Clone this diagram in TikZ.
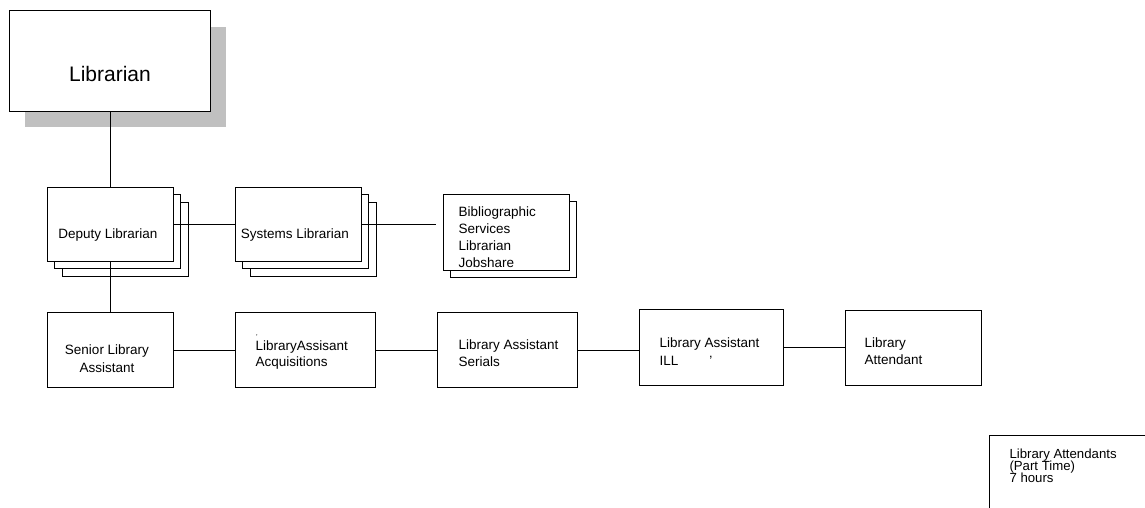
\documentclass[tikz,border=0pt]{standalone}
\usepackage{fontspec}
\setmainfont{Liberation Sans}
\definecolor{shadowgrey}{RGB}{192,192,192}
\newcommand\tightlines{\lineskiplimit=-20pt\relax}

\begin{document}
\begin{tikzpicture}[x=1pt,y=-1pt,line width=1pt,
    box/.style={draw,fill=white,anchor=north west,inner sep=0pt},
    txt/.style={inner sep=0pt,align=left,anchor=base west,font=\fontsize{13.5}{17}\selectfont}]
% stacked boxes are copies shifted by \soff
% multi-line texts sit on the baseline of their last line

  \pgfmathsetmacro\soff{7.5}   % offset of the boxes behind
  \useasboundingbox (0,0) rectangle (1145,508);

% Librarian with grey shadow
  \fill[shadowgrey] (25,27) rectangle (226,127);
  \node[box,minimum width=201pt,minimum height=101pt] (libr) at (9,10) {};
  \node[inner sep=0pt,anchor=base,font=\fontsize{21}{25}\selectfont] (librt) at (110,82) {Librarian};

% second row, stacked boxes
  \filldraw[fill=white] (47+2*\soff,187+2*\soff) rectangle (173+2*\soff,261+2*\soff);
  \filldraw[fill=white] (47+\soff,187+\soff) rectangle (173+\soff,261+\soff);
  \node[box,minimum width=126pt,minimum height=74pt] (dep) at (47,187) {};
  \node[txt,anchor=base] (dept) at (108,238) {Deputy Librarian};

  \filldraw[fill=white] (235+2*\soff,187+2*\soff) rectangle (361+2*\soff,261+2*\soff);
  \filldraw[fill=white] (235+\soff,187+\soff) rectangle (361+\soff,261+\soff);
  \node[box,minimum width=126pt,minimum height=74pt] (sys) at (235,187) {};
  \node[txt,anchor=base] (syst) at (295,238) {Systems Librarian};

  \filldraw[fill=white] (443+\soff,194+\soff) rectangle (569+\soff,270+\soff);
  \node[box,minimum width=126pt,minimum height=76pt] (bib) at (443,194) {};
  \node[txt,font=\fontsize{13.5}{16.7}\selectfont] (bibt) at (458,267) {Bibliographic\\Services\\Librarian\\Jobshare};

% third row
  \node[box,minimum width=126pt,minimum height=75pt] (sen) at (47,312) {};
  \node[txt,anchor=base,align=center,font=\fontsize{13.5}{18}\selectfont] (sent) at (107,372) {Senior Library\\Assistant};

  \node[box,minimum width=140pt,minimum height=75pt] (acq) at (235,312) {};
  \node[txt,font=\fontsize{13.5}{16}\selectfont] (acqt) at (255,366)
    {\makebox[0pt][l]{\hspace{0.5pt}\raisebox{11pt}{\fontsize{7}{7}\selectfont ’}}LibraryAssisant\\Acquisitions};

  \node[box,minimum width=140pt,minimum height=75pt] (ser) at (437,312) {};
  \node[txt] (sert) at (458,366) {Library Assistant\\Serials};

  \node[box,minimum width=144pt,minimum height=76pt] (ill) at (639,309) {};
  \node[txt,font=\fontsize{13.5}{18}\selectfont] (illt) at (659,365) {Library Assistant\\ILL\hspace{31pt}’};

  \node[box,minimum width=136pt,minimum height=75pt] (att) at (845,310) {};
  \node[txt] (attt) at (864,364) {Library\\Attendant};

% part time box, runs off the page
  \node[box,minimum width=180pt,minimum height=100pt] (part) at (989,435) {};
  \node[txt,font={\fontsize{13.2}{12}\selectfont\tightlines}] (partt) at (1009,482) {Library Attendants\\(Part Time)\\7 hours};

% connectors
  \draw (libr.south) -- (libr.south |- dep.north);
  \draw (dep.east) -- (sys.west);
  \draw[shorten >=7pt] (sys.east) -- (sys.east -| bib.west);
  \draw (dep.south) -- (sen.north);
  \draw (sen.east) -- (acq.west);
  \draw (acq.east) -- (ser.west);
  \draw (ser.east) -- (ser.east -| ill.west);
  \draw (ill.east) -- (ill.east -| att.west);

\end{tikzpicture}
\end{document}
